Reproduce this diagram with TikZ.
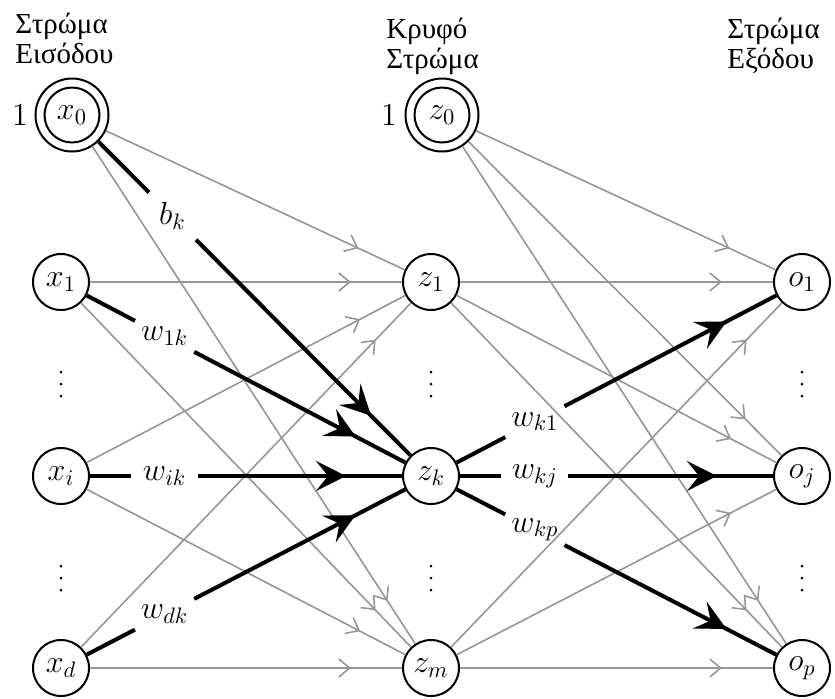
\RequirePackage{fix-cm}
\documentclass[tikz,border=0pt]{standalone}
\usepackage{fontspec}
\newfontfamily\greekserif{Liberation Serif}
\usetikzlibrary{arrows.meta,decorations.markings,calc}

\definecolor{wiregray}{RGB}{150,150,150}
\newcommand\nnmath{\fontsize{16}{19}\selectfont}
\newcommand\nntitle{\greekserif\fontsize{14.5}{15}\selectfont}

\tikzset{
  unit/.style={circle, draw, line width=1pt, fill=white, minimum size=28pt,
    inner sep=0pt, font=\nnmath},
  biasunit/.style={unit, minimum size=36.5pt},
  wlabel/.style={circle, inner sep=0pt, minimum size=33pt, font=\nnmath},
  layertitle/.style={anchor=base west, align=left, inner sep=0pt, font=\nntitle},
  wire/.style={line width=0.8pt, draw=wiregray, postaction={decorate},
    decoration={markings, mark=at position -25.5pt with
      {\arrow[wiregray]{Straight Barb[length=5.5pt,width=9pt,line width=0.8pt]}}}},
  weight/.style={line width=2pt, draw=black},
  weightin/.style={weight, postaction={decorate},
    decoration={markings, mark=at position -28pt with
      {\arrow{Stealth[length=15pt,width=15pt,inset=6pt]}}}},
}

\begin{document}
\begin{tikzpicture}[x=0.5pt,y=-0.5pt]
  \useasboundingbox (0,0) rectangle (835,698);

  % layer titles (anchored at the baseline of their last line)
  \node[layertitle] (tin)  at (15,63)  {Στρώμα\\Εισόδου};
  \node[layertitle] (thid) at (386,68) {Κρυφό\\Στρώμα};
  \node[layertitle] (tout) at (727,68) {Στρώμα\\Εξόδου};

  % input layer
  \node[biasunit] (x0) at (72,115)  {$x_0$};
  \node[unit]     (x1) at (61,282)  {$x_1$};
  \node[unit]     (xi) at (61,476)  {$x_i$};
  \node[unit]     (xd) at (61,668)  {$x_d$};

  % hidden layer
  \node[biasunit] (z0) at (442,115) {$z_0$};
  \node[unit]     (z1) at (431,282) {$z_1$};
  \node[unit]     (zk) at (431,476) {$z_k$};
  \node[unit]     (zm) at (431,668) {$z_m$};

  % output layer
  \node[unit] (o1) at (802,282) {$o_1$};
  \node[unit] (oj) at (802,476) {$o_j$};
  \node[unit] (op) at (802,668) {$o_p$};

  % inner rings of the bias units and their constant inputs
  \draw[line width=1pt] (x0.center) circle[radius=13.75pt];
  \draw[line width=1pt] (z0.center) circle[radius=13.75pt];
  \node[font=\nnmath] (one0) at (20,115)  {$1$};
  \node[font=\nnmath] (one1) at (389,115) {$1$};

  % vertical ellipses between units
  \foreach \cx in {61,431,802}
    \foreach \cy in {384,578}
      \foreach \dy in {-12,0,12}
        \fill (\cx,\cy+\dy) circle[radius=0.75pt];

  % plain connections
  \foreach \s in {x0,x1,xi,xd}
    \foreach \t in {z1,zm}
      \draw[wire] (\s) -- (\t);
  \foreach \s in {z0,z1,zm}
    \foreach \t in {o1,oj,op}
      \draw[wire] (\s) -- (\t);

  % weights into z_k
  \node[wlabel] (bk)  at ($(x0)!0.28!(zk)$) {$b_k$};
  \node[wlabel] (w1k) at ($(x1)!0.28!(zk)$) {$w_{1k}$};
  \node[wlabel] (wik) at ($(xi)!0.28!(zk)$) {$w_{ik}$};
  \node[wlabel] (wdk) at ($(xd)!0.28!(zk)$) {$w_{dk}$};
  \foreach \s/\w in {x0/bk,x1/w1k,xi/wik,xd/wdk} {
    \draw[weight] (\s) -- (\w);
    \draw[weightin] (\w) -- (zk);
  }

  % weights out of z_k
  \node[wlabel] (wk1) at ($(zk)!0.28!(o1)$) {$w_{k1}$};
  \node[wlabel] (wkj) at ($(zk)!0.28!(oj)$) {$w_{kj}$};
  \node[wlabel] (wkp) at ($(zk)!0.28!(op)$) {$w_{kp}$};
  \foreach \t/\w in {o1/wk1,oj/wkj,op/wkp} {
    \draw[weight] (zk) -- (\w);
    \draw[weightin] (\w) -- (\t);
  }
\end{tikzpicture}
\end{document}
